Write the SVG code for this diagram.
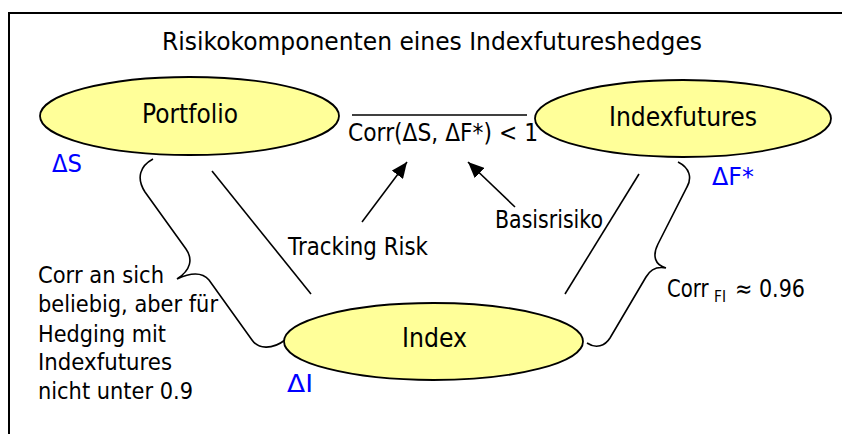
<svg xmlns="http://www.w3.org/2000/svg" width="842" height="434" viewBox="0 0 842 434">
  <style>
    text { font-family: "DejaVu Sans", "Liberation Sans", sans-serif; font-size: 24px; fill: #000; }
    .title { font-size: 25px; }
    .label { font-size: 26px; }
    .note { font-size: 23px; }
    .sub { font-size: 15px; }
    .blue { fill: #0000FF; }
    .node { fill: #FFFF99; stroke: #000; stroke-width: 1.8; }
    .link { fill: none; stroke: #000; stroke-width: 1.6; }
  </style>
  <defs>
    <marker id="arrow" markerUnits="userSpaceOnUse" markerWidth="18" markerHeight="14" refX="16" refY="7" orient="auto">
      <path d="M0,0 L16,7 L0,14 z" fill="#000"/>
    </marker>
  </defs>

  <!-- frame -->
  <path d="M9,434 V13 H842" fill="none" stroke="#000" stroke-width="2"/>

  <!-- title -->
  <text class="title" x="162" y="50" textLength="540" lengthAdjust="spacingAndGlyphs">Risikokomponenten eines Indexfutureshedges</text>

  <!-- connectors -->
  <g id="connectors">
    <line class="link" x1="212" y1="171" x2="311" y2="294"/>
    <line class="link" x1="639" y1="174" x2="565" y2="294"/>
    <line class="link" x1="362" y1="222" x2="407" y2="162" marker-end="url(#arrow)"/>
    <line class="link" x1="515" y1="207" x2="468" y2="162" marker-end="url(#arrow)"/>
    <!-- braces -->
    <path class="link" d="M153,159 C140,166 136,178 145,192 L186,249 C193,259 191,270 177,279 C192,272 203,273 209,280 L252,340 C258,349 272,350 285,340"/>
    <path class="link" d="M678,162 C690,168 692,178 687,187 L658,244 C652,256 655,265 666,268 C656,266 650,270 646,277 L610,338 C605,346 596,349 587,343"/>
    <!-- correlation bar -->
    <line class="link" x1="352" y1="115" x2="527" y2="115"/>
  </g>

  <!-- nodes -->
  <g id="portfolio">
    <ellipse class="node" cx="189.5" cy="116" rx="149.5" ry="39"/>
    <text class="label" x="142" y="123" textLength="96" lengthAdjust="spacingAndGlyphs">Portfolio</text>
  </g>
  <g id="indexfutures">
    <ellipse class="node" cx="683" cy="118.5" rx="148" ry="38.5"/>
    <text class="label" x="609" y="126" textLength="148" lengthAdjust="spacingAndGlyphs">Indexfutures</text>
  </g>
  <g id="index">
    <ellipse class="node" cx="433.5" cy="341.5" rx="149.5" ry="38.5"/>
    <text class="label" x="402" y="347" textLength="65" lengthAdjust="spacingAndGlyphs">Index</text>
  </g>

  <!-- labels -->
  <text x="348" y="141" textLength="190" lengthAdjust="spacingAndGlyphs">Corr(ΔS, ΔF*) &lt; 1</text>
  <text x="288" y="255" textLength="140" lengthAdjust="spacingAndGlyphs">Tracking Risk</text>
  <text x="495" y="228" textLength="108" lengthAdjust="spacingAndGlyphs">Basisrisiko</text>

  <text class="blue" x="52" y="172" textLength="30" lengthAdjust="spacingAndGlyphs">ΔS</text>
  <text class="blue" x="712" y="185" textLength="42" lengthAdjust="spacingAndGlyphs">ΔF*</text>
  <text class="blue" x="287" y="392" textLength="26" lengthAdjust="spacingAndGlyphs">ΔI</text>

  <text class="note" x="38" y="283" textLength="126" lengthAdjust="spacingAndGlyphs">Corr an sich</text>
  <text class="note" x="38" y="312" textLength="180" lengthAdjust="spacingAndGlyphs">beliebig, aber für</text>
  <text class="note" x="38" y="342" textLength="128" lengthAdjust="spacingAndGlyphs">Hedging mit</text>
  <text class="note" x="38" y="370" textLength="134" lengthAdjust="spacingAndGlyphs">Indexfutures</text>
  <text class="note" x="38" y="399" textLength="155" lengthAdjust="spacingAndGlyphs">nicht unter 0.9</text>

  <!-- Corr_FI ≈ 0.96 (horizontally condensed) -->
  <text transform="translate(667,297) scale(0.82,1)" x="0" y="0">Corr</text>
  <text class="sub" x="714" y="302" textLength="12" lengthAdjust="spacingAndGlyphs">FI</text>
  <text x="735" y="297" textLength="70" lengthAdjust="spacingAndGlyphs">≈ 0.96</text>
</svg>
